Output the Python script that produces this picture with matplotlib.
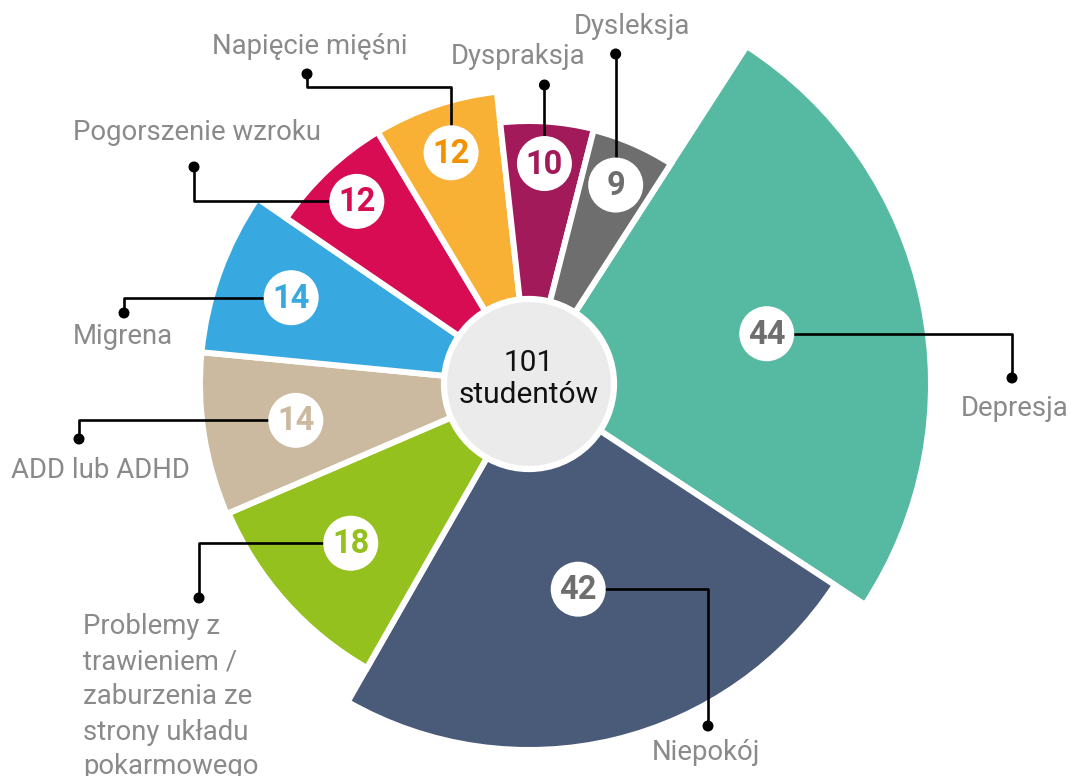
import numpy as np
import matplotlib.pyplot as plt
from matplotlib.patches import Wedge, Circle

# chart data (descending, drawn clockwise)
categories = ['Depresja', 'Niepokój',
              'Problemy z\ntrawieniem /\nzaburzenia ze\nstrony układu\npokarmowego',
              'ADD lub ADHD', 'Migrena', 'Pogorszenie wzroku', 'Napięcie mięśni',
              'Dyspraksja', 'Dysleksja']
values = [44, 42, 18, 14, 14, 12, 12, 10, 9]
center_label = '101\nstudentów'

# styling
colors = ['#56b9a1', '#4a5b79', '#95c11f', '#cbb9a0', '#37a8e0',
          '#d70c53', '#f8b134', '#a21a5a', '#6e6e6e']
num_colors = ['#6e6e6e', '#6e6e6e', '#95c11f', '#cbb9a0', '#37a8e0',
              '#d70c53', '#f39200', '#a21a5a', '#6e6e6e']
outer_r = [402, 366, 327, 329, 329, 294, 294, 263, 262]
badge_r = [243, 211, 239, 236, 253, 251, 244, 221, 217]

# leader moves from badge: ('x', val) = go horizontally, ('y', val) = go vertically
leaders = [
    [('x', 1012), ('y', 378)],
    [('x', 708), ('y', 726)],
    [('x', 199), ('y', 598)],
    [('x', 79), ('y', 439)],
    [('x', 124), ('y', 313)],
    [('x', 194), ('y', 167)],
    [('y', 87), ('x', 307), ('y', 74)],
    [('y', 85)],
    [('y', 54)],
]
label_xy = [(1015, 408), (706, 752), (83, 627), (100, 471), (123, 337),
            (197, 133), (310, 47), (518, 57), (632, 26)]

cx, cy = 529, 384
start_angle = 57.2

plt.rcParams['font.family'] = ['Roboto', 'DejaVu Sans']

fig = plt.figure(figsize=(10.71, 7.76), dpi=100)
ax = fig.add_axes([0, 0, 1, 1])
ax.set_xlim(0, 1071)
ax.set_ylim(776, 0)
ax.set_aspect('equal')
ax.axis('off')

total = sum(values)
a_hi = start_angle
for i, v in enumerate(values):
    span = v / total * 360.0
    a_lo = a_hi - span
    # y axis is inverted, so screen angles flip sign
    ax.add_patch(Wedge((cx, cy), outer_r[i], -a_hi, -a_lo, facecolor=colors[i],
                       edgecolor='white', linewidth=4.3, zorder=1))
    mid = np.radians((a_hi + a_lo) / 2)
    bx = cx + badge_r[i] * np.cos(mid)
    by = cy - badge_r[i] * np.sin(mid)

    # leader line
    xs, ys = [bx], [by]
    for axis_, val in leaders[i]:
        if axis_ == 'x':
            xs.append(val); ys.append(ys[-1])
        else:
            xs.append(xs[-1]); ys.append(val)
    ax.plot(xs, ys, color='black', linewidth=1.9, zorder=3, solid_capstyle='butt')
    ax.add_patch(Circle((xs[-1], ys[-1]), 4.8, color='black', zorder=3))

    ax.add_patch(Circle((bx, by), 27.5, facecolor='white', edgecolor='none', zorder=4))
    ax.text(bx, by + 1, str(v), ha='center', va='center', fontsize=23.5,
            fontweight='bold', color=num_colors[i], zorder=5)

    lx, ly = label_xy[i]
    lines = categories[i].split('\n')
    if len(lines) > 1:
        for j, line in enumerate(lines):
            ax.text(lx, ly + j * 35, line, ha='left', va='center',
                    fontsize=19.8, color='#8a8a8a')
    else:
        ax.text(lx, ly, categories[i], ha='center', va='center',
                fontsize=19.8, color='#8a8a8a')
    a_hi = a_lo

# centre disc
ax.add_patch(Circle((cx, cy), 85, facecolor='#ebebeb', edgecolor='white',
                    linewidth=4.5, zorder=6))
for j, line in enumerate(center_label.split('\n')):
    ax.text(cx, cy - 21 + j * 32, line, ha='center', va='center',
            fontsize=21.5, color='#111111', zorder=7)

fig.savefig('out.png', dpi=100)
